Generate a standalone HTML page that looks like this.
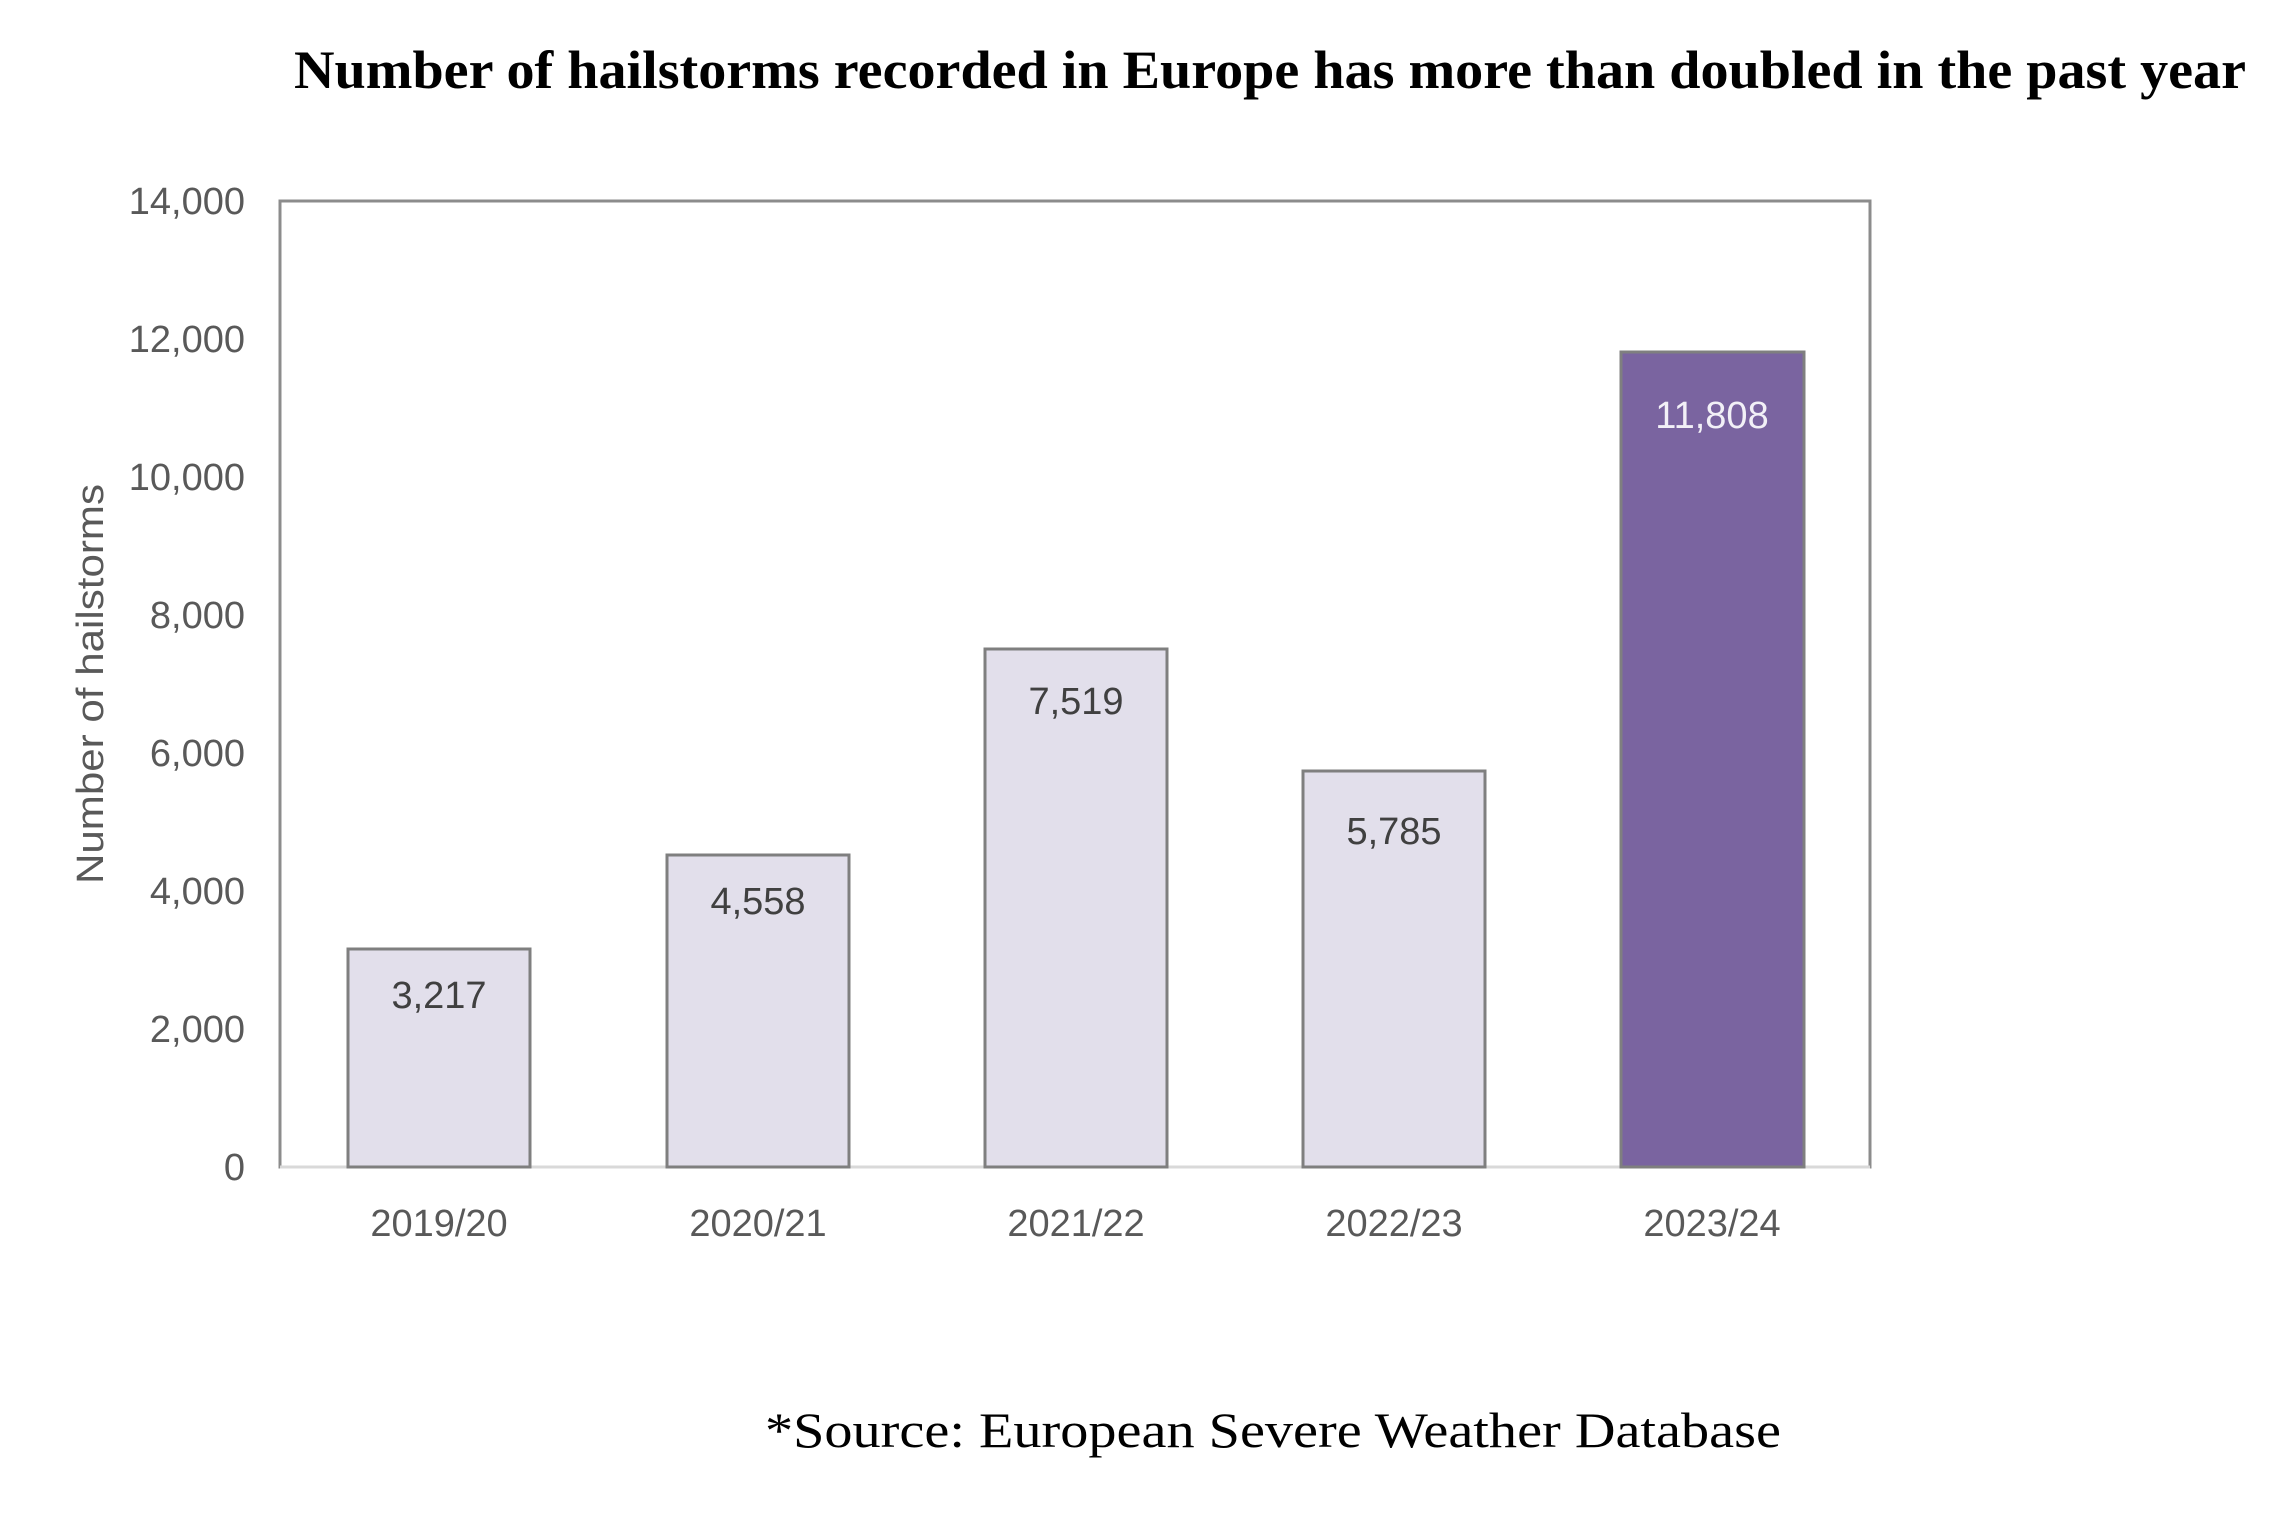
<!DOCTYPE html>
<html><head><meta charset="utf-8"><style>
html,body{margin:0;padding:0;background:#fff;}
svg{display:block;}
</style></head><body>
<svg width="2286" height="1515" viewBox="0 0 2286 1515" xmlns="http://www.w3.org/2000/svg">
<rect width="2286" height="1515" fill="#fff"/>
<text x="294" y="88" font-family="Liberation Serif, serif" font-weight="bold" font-size="54" textLength="1952" lengthAdjust="spacingAndGlyphs" fill="#000">Number of hailstorms recorded in Europe has more than doubled in the past year</text>
<rect x="280" y="201" width="1590" height="966" fill="none" stroke="#8c8c8c" stroke-width="3"/>
<line x1="280" y1="1167" x2="1870" y2="1167" stroke="#d9d9d9" stroke-width="3"/>
<g font-family="Liberation Sans, sans-serif" font-size="38" fill="#595959" text-anchor="end">
<text x="245" y="1180">0</text>
<text x="245" y="1042">2,000</text>
<text x="245" y="904">4,000</text>
<text x="245" y="766">6,000</text>
<text x="245" y="628">8,000</text>
<text x="245" y="490">10,000</text>
<text x="245" y="352">12,000</text>
<text x="245" y="214">14,000</text>
</g>
<text transform="translate(103,684) rotate(-90)" font-family="Liberation Sans Narrow, Liberation Sans, sans-serif" font-size="38" fill="#595959" text-anchor="middle" textLength="400" lengthAdjust="spacingAndGlyphs">Number of hailstorms</text>
<g stroke="#7f7f7f" stroke-width="3">
<rect x="348" y="949" width="182" height="218" fill="#e2dfeb"/>
<rect x="667" y="855" width="182" height="312" fill="#e2dfeb"/>
<rect x="985" y="649" width="182" height="518" fill="#e2dfeb"/>
<rect x="1303" y="771" width="182" height="396" fill="#e2dfeb"/>
<rect x="1621" y="352" width="183" height="815" fill="#7a64a0"/>
</g>
<g font-family="Liberation Sans, sans-serif" font-size="38" fill="#404040" text-anchor="middle">
<text x="439" y="1008">3,217</text>
<text x="758" y="914">4,558</text>
<text x="1076" y="714">7,519</text>
<text x="1394" y="844">5,785</text>
<text x="1712" y="428" fill="#f2f0f7">11,808</text>
</g>
<g font-family="Liberation Sans, sans-serif" font-size="38" fill="#595959" text-anchor="middle">
<text x="439" y="1236">2019/20</text>
<text x="758" y="1236">2020/21</text>
<text x="1076" y="1236">2021/22</text>
<text x="1394" y="1236">2022/23</text>
<text x="1712" y="1236">2023/24</text>
</g>
<text x="765" y="1447" font-family="Liberation Serif, serif" font-size="50" textLength="1016" lengthAdjust="spacingAndGlyphs" fill="#000">*Source: European Severe Weather Database</text>
</svg>
</body></html>
